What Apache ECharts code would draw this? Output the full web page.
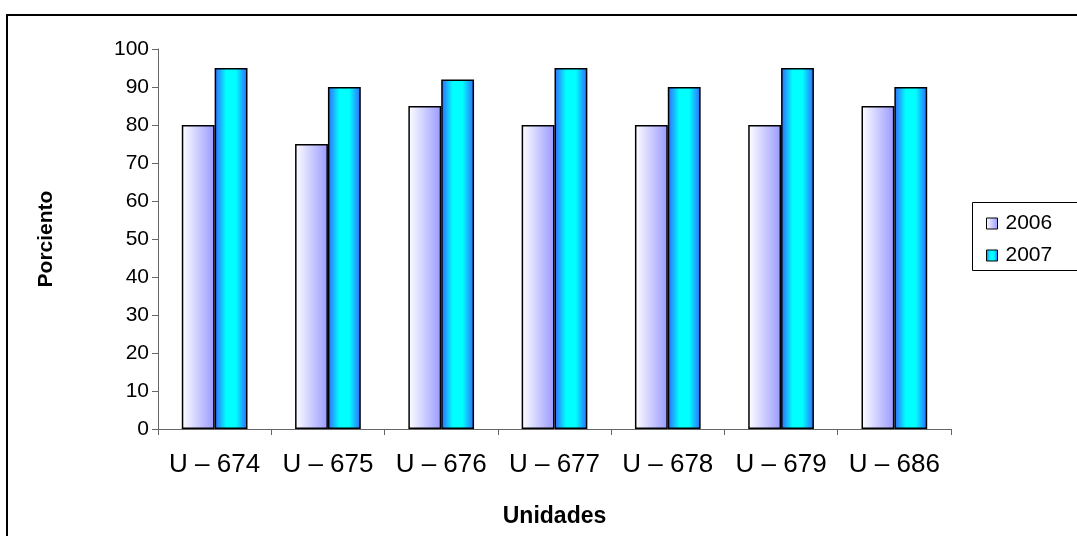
<!DOCTYPE html>
<html>
<head>
<meta charset="utf-8">
<script src="https://cdn.jsdelivr.net/npm/echarts@6/dist/echarts.min.js"></script>
<style>
  html, body { margin: 0; padding: 0; background: #ffffff; }
  #chart { width: 1077px; height: 536px; }
</style>
</head>
<body>
<div id="chart"></div>
<script>
// Unidades and their percentages per year
const categories = ['U – 674', 'U – 675', 'U – 676', 'U – 677', 'U – 678', 'U – 679', 'U – 686'];
const values2006 = [80, 75, 85, 80, 80, 80, 85];
const values2007 = [95, 90, 92, 95, 90, 95, 90];
const seriesNames = ['2006', '2007'];

const FONT = '"Liberation Sans", Arial, sans-serif';

const fill2006 = new echarts.graphic.LinearGradient(0, 0, 1, 0, [
  { offset: 0, color: '#ffffff' },
  { offset: 1, color: '#9999ff' }
]);
const fill2007 = new echarts.graphic.LinearGradient(0, 0, 1, 0, [
  { offset: 0, color: '#3366ff' },
  { offset: 0.35, color: '#00ffff' },
  { offset: 0.65, color: '#00ffff' },
  { offset: 1, color: '#3366ff' }
]);

const chart = echarts.init(document.getElementById('chart'), null, { renderer: 'canvas' });

chart.setOption({
  backgroundColor: '#ffffff',
  animation: false,
  grid: { left: 158, right: 126, top: 49, bottom: 107, containLabel: false },
  graphic: [
    // chart frame
    { type: 'rect', silent: true, z: 0,
      shape: { x: 7, y: 15, width: 2000, height: 2000 },
      style: { fill: 'none', stroke: '#000000', lineWidth: 2 } },
    // legend frame
    { type: 'rect', silent: true, z: 0,
      shape: { x: 972.5, y: 202.5, width: 200, height: 68 },
      style: { fill: '#ffffff', stroke: '#000000', lineWidth: 1 } }
  ],
  legend: {
    orient: 'vertical',
    left: 981,
    top: 208,
    itemWidth: 11,
    itemHeight: 11,
    itemGap: 11,
    icon: 'rect',
    data: seriesNames,
    textStyle: { fontFamily: FONT, fontSize: 21, color: '#000000', padding: [0, 0, 0, 3] },
    itemStyle: { borderColor: '#000000', borderWidth: 1 }
  },
  xAxis: {
    type: 'category',
    data: categories,
    name: 'Unidades',
    nameLocation: 'middle',
    nameGap: 76,
    nameTextStyle: { fontFamily: FONT, fontSize: 23, fontWeight: 'bold', color: '#000000' },
    axisLine: { lineStyle: { color: '#666666', width: 1 } },
    axisTick: { show: true, length: 6, interval: 0, lineStyle: { color: '#666666' } },
    axisLabel: { fontFamily: FONT, fontSize: 26, color: '#000000', margin: 23, interval: 0, hideOverlap: false },
    splitLine: { show: false }
  },
  yAxis: {
    type: 'value',
    min: 0,
    max: 100,
    interval: 10,
    name: 'Porciento',
    nameLocation: 'middle',
    nameGap: 101,
    nameRotate: 90,
    nameTextStyle: { fontFamily: FONT, fontSize: 21, fontWeight: 'bold', color: '#000000' },
    axisLine: { show: true, lineStyle: { color: '#666666', width: 1 } },
    axisTick: { show: true, length: 6, lineStyle: { color: '#666666' } },
    axisLabel: { fontFamily: FONT, fontSize: 21, color: '#000000', margin: 9 },
    splitLine: { show: false }
  },
  series: [
    {
      name: seriesNames[0],
      type: 'bar',
      data: values2006,
      barGap: '0%',
      barCategoryGap: '42%',
      itemStyle: { color: fill2006, borderColor: '#000000', borderWidth: 1.5 }
    },
    {
      name: seriesNames[1],
      type: 'bar',
      data: values2007,
      itemStyle: { color: fill2007, borderColor: '#000000', borderWidth: 1.5 }
    }
  ]
});
</script>
</body>
</html>
